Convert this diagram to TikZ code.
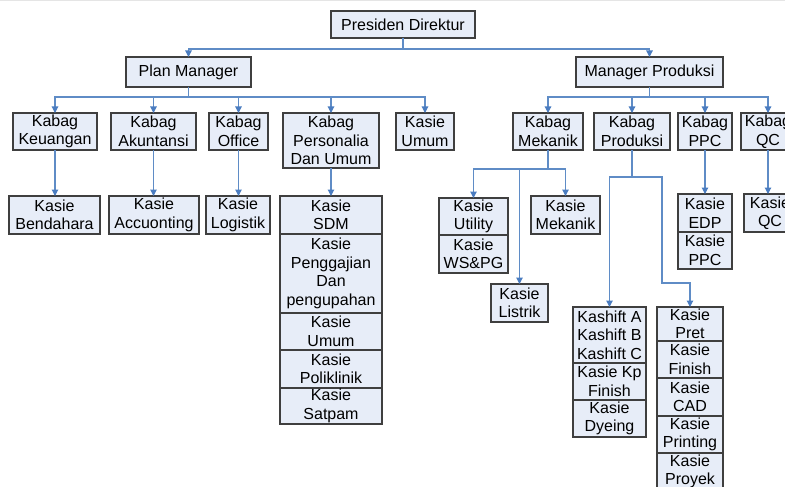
\documentclass[tikz,border=0pt]{standalone}
\usepackage{fontspec}
\setmainfont{Liberation Sans}
\usetikzlibrary{arrows.meta}

\definecolor{boxfill}{HTML}{E7EDF8}
\definecolor{boxline}{HTML}{3F3F3F}
\definecolor{linkblue}{HTML}{5F8CC6}
\definecolor{tipblue}{HTML}{4A7CC0}

\tikzset{
  orgbox/.style={draw=boxline, fill=boxfill, line width=1.1pt, inner sep=0pt, outer sep=0pt},
  lbl/.style={align=center, inner sep=0pt, font=\fontsize{16}{18.5}\selectfont},
  link/.style={draw=linkblue, line width=1.1pt},
  arr/.style={link, -{Triangle[width=6.5pt,length=6.5pt,color=tipblue]}},
}

% name, centre x, centre y, width, height, label
\newcommand\orgunit[6]{%
  \node[orgbox, minimum width=#4pt, minimum height=#5pt] (#1) at (#2,#3) {};
  \node[lbl] (#1-t) at (#1.center) {#6};}

\begin{document}
\begin{tikzpicture}[x=1pt,y=-1pt]
\useasboundingbox (0,0) rectangle (785,487);
\draw[gray!20, line width=1pt] (0,0.5) -- (785,0.5);

% top levels
\orgunit{pd}{403}{24.5}{144}{27}{Presiden Direktur}
\orgunit{pm}{188.5}{72}{125}{30}{Plan Manager}
\orgunit{mp}{649.5}{72}{147}{30}{Manager Produksi}

% heads of department
\orgunit{kku}{55}{131.5}{84}{37}{Kabag\\Keuangan}
\orgunit{kak}{153.5}{131.5}{85}{37}{Kabag\\Akuntansi}
\orgunit{kof}{238.5}{131.5}{59}{37}{Kabag\\Office}
\orgunit{kpe}{331}{140.5}{96}{55}{Kabag\\Personalia\\Dan Umum}
\orgunit{sum}{425}{131.5}{58}{37}{Kasie\\Umum}
\orgunit{kme}{548}{131.5}{70}{37}{Kabag\\Mekanik}
\orgunit{kpr}{632}{131.5}{76}{37}{Kabag\\Produksi}
\orgunit{kpp}{705}{131.5}{54}{37}{Kabag\\PPC}
\orgunit{kqc}{768}{131.5}{54}{37}{Kabag\\QC}

% sections under Plan Manager
\orgunit{sbe}{54.5}{215}{91}{38}{Kasie\\Bendahara}
\orgunit{sac}{154}{215}{90}{38}{Kasie\\Accuonting}
\orgunit{slo}{238}{215}{64}{38}{Kasie\\Logistik}
\orgunit{ssd}{331}{215}{102}{38}{Kasie\\SDM}
\orgunit{spg}{331}{273.5}{102}{79}{Kasie\\Penggajian\\Dan\\pengupahan}
\orgunit{sum2}{331}{331.5}{102}{37}{Kasie\\Umum}
\orgunit{spo}{331}{369}{102}{38}{Kasie\\Poliklinik}
\orgunit{ssa}{331}{406}{102}{36}{Kasie\\Satpam}

% sections under Kabag Mekanik
\orgunit{sut}{473.5}{216.5}{69}{37}{Kasie\\Utility}
\orgunit{sws}{473.5}{254}{69}{38}{Kasie\\WS\&PG}
\orgunit{smk}{565.5}{215}{69}{38}{Kasie\\Mekanik}
\orgunit{sli}{519.5}{303}{57}{38}{Kasie\\Listrik}

% sections under Kabag Produksi
\orgunit{ssh}{609.5}{335}{73}{56}{Kashift A\\Kashift B\\Kashift C}
\orgunit{skp}{609.5}{381.5}{73}{37}{Kasie Kp\\Finish}
\orgunit{sdy}{609.5}{418.5}{73}{37}{Kasie\\Dyeing}
\orgunit{spr}{690}{324}{66}{34}{Kasie\\Pret}
\orgunit{sfi}{690}{359.5}{66}{37}{Kasie\\Finish}
\orgunit{sca}{690}{397}{66}{38}{Kasie\\CAD}
\orgunit{spt}{690}{434.5}{66}{37}{Kasie\\Printing}
\orgunit{spy}{690}{471.5}{66}{37}{Kasie\\Proyek}

% sections under Kabag PPC and Kabag QC
\orgunit{sed}{705}{213}{54}{38}{Kasie\\EDP}
\orgunit{spc}{705}{250.5}{54}{37}{Kasie\\PPC}
\orgunit{sqc}{770}{213}{52}{38}{Kasie\\QC}

% connectors
\foreach \t in {pm,mp}
  \draw[arr] (pd.south) -- ++(0,11) -| (\t.north);
\foreach \t in {kku,kak,kof,kpe,sum}
  \draw[arr] (pm.south) -- ++(0,10) -| (\t.north);
\foreach \t in {kme,kpr,kpp,kqc}
  \draw[arr] (mp.south) -- ++(0,10) -| (\t.north);

\draw[arr] (kku.south) -- (kku.south |- sbe.north);
\draw[arr] (kak.south) -- (kak.south |- sac.north);
\draw[arr] (kof.south) -- (kof.south |- slo.north);
\draw[arr] (kpe.south) -- (kpe.south |- ssd.north);

\foreach \t in {sut,sli,smk}
  \draw[arr] (kme.south) -- ++(0,19) -| (\t.north);

\coordinate (jp) at (662,283);
\draw[arr] (kpr.south) -- ++(0,27) -| (ssh.north);
\draw[arr] (kpr.south) -- ++(0,27) -| (jp) -| (spr.north);

\draw[arr] (kpp.south) -- (kpp.south |- sed.north);
\draw[arr] (kqc.south) -- (kqc.south |- sqc.north);
\end{tikzpicture}
\end{document}
